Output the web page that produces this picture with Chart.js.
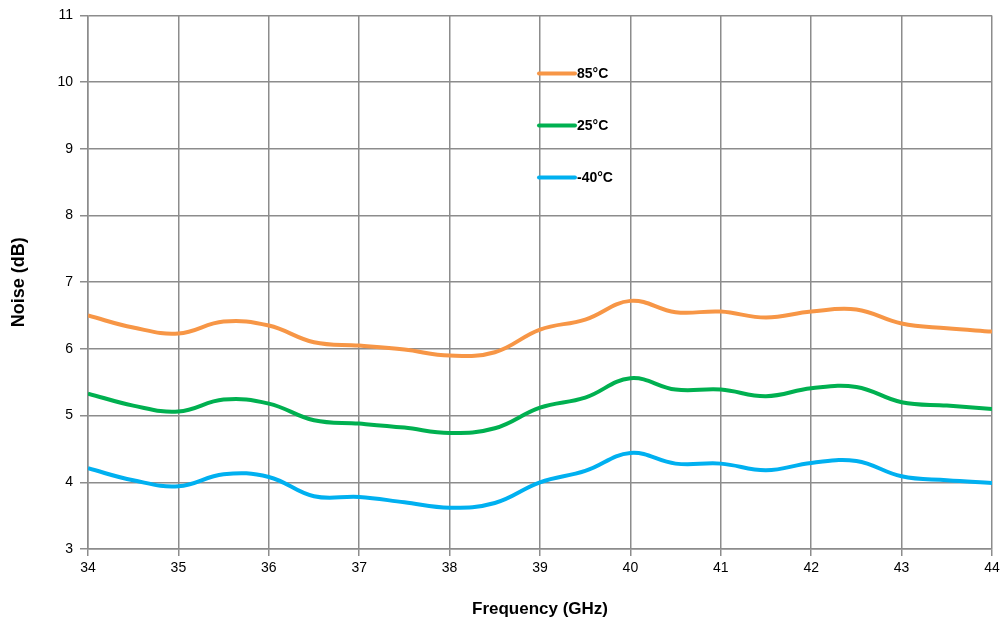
<!DOCTYPE html>
<html>
<head>
<meta charset="utf-8">
<style>
  html, body { margin: 0; padding: 0; background: #fff; }
  #wrap { width: 1004px; height: 624px; }
</style>
<script src="https://cdn.jsdelivr.net/npm/chart.js@4/dist/chart.umd.min.js"></script>
</head>
<body>
<div id="wrap"><canvas id="c" width="1004" height="624"></canvas></div>
<script>
// Frequency points (GHz)
const frequency = [34, 34.5, 35, 35.5, 36, 36.5, 37, 37.5, 38, 38.5, 39, 39.5, 40, 40.5, 41, 41.5, 42, 42.5, 43, 43.5, 44];

// Noise figure (dB) per temperature
const noise85 = [6.50, 6.32, 6.23, 6.41, 6.35, 6.10, 6.05, 5.99, 5.90, 5.95, 6.29, 6.44, 6.72, 6.55, 6.56, 6.47, 6.56, 6.59, 6.38, 6.31, 6.26];
const noise25 = [5.33, 5.15, 5.06, 5.24, 5.18, 4.93, 4.88, 4.82, 4.74, 4.81, 5.12, 5.27, 5.56, 5.39, 5.39, 5.29, 5.41, 5.43, 5.20, 5.15, 5.10];
const noiseM40 = [4.21, 4.03, 3.94, 4.12, 4.08, 3.79, 3.78, 3.70, 3.62, 3.69, 4.00, 4.17, 4.44, 4.28, 4.28, 4.18, 4.29, 4.32, 4.09, 4.03, 3.99];

const seriesLabels = ['85°C', '25°C', '-40°C'];
const seriesColors = ['#F79646', '#00B050', '#00B0F0'];

const xTicks = [34, 35, 36, 37, 38, 39, 40, 41, 42, 43, 44];
const yTicks = [3, 4, 5, 6, 7, 8, 9, 10, 11];

const toPoints = arr => arr.map((v, i) => ({ x: frequency[i], y: v }));

const FONT = "'Liberation Sans', Arial, sans-serif";
const GRID = '#8c8c8c';

// Legend drawn inside the plot area, one entry per row
const innerLegend = {
  id: 'innerLegend',
  afterDatasetsDraw(chart) {
    const { ctx, chartArea } = chart;
    const x0 = chartArea.left + 449;
    const rows = [chartArea.top + 58, chartArea.top + 110, chartArea.top + 162];
    ctx.save();
    chart.data.datasets.forEach((ds, i) => {
      const y = rows[i];
      ctx.strokeStyle = ds.borderColor;
      ctx.lineWidth = 4;
      ctx.lineCap = 'round';
      ctx.beginPath();
      ctx.moveTo(x0 + 2, y);
      ctx.lineTo(x0 + 38, y);
      ctx.stroke();
      ctx.fillStyle = '#000';
      ctx.font = 'bold 14px ' + FONT;
      ctx.textBaseline = 'middle';
      ctx.textAlign = 'left';
      ctx.fillText(ds.label, x0 + 40, y + 1);
    });
    ctx.restore();
  }
};

const datasets = [noise85, noise25, noiseM40].map((arr, i) => ({
  label: seriesLabels[i],
  data: toPoints(arr),
  borderColor: seriesColors[i],
  backgroundColor: seriesColors[i],
  borderWidth: 4,
  pointRadius: 0,
  tension: 0.4,
  fill: false
}));

new Chart(document.getElementById('c'), {
  type: 'line',
  data: { datasets },
  plugins: [innerLegend],
  options: {
    responsive: false,
    animation: false,
    devicePixelRatio: 1,
    layout: { padding: { top: 14, right: 12, left: 0, bottom: 0 } },
    plugins: { legend: { display: false }, tooltip: { enabled: false } },
    scales: {
      x: {
        type: 'linear',
        min: 34, max: 44,
        afterBuildTicks: s => { s.ticks = xTicks.map(v => ({ value: v })); },
        afterFit: s => { s.height = 75; },
        ticks: { color: '#000', font: { family: FONT, size: 14 }, padding: 4, maxRotation: 0 },
        grid: { color: GRID, lineWidth: 1.5, tickLength: 7, drawTicks: true },
        border: { color: GRID, width: 1.5 },
        title: {
          display: true, text: 'Frequency (GHz)', color: '#000',
          font: { family: FONT, size: 17, weight: 'bold' },
          padding: { top: 4, bottom: 4 }
        }
      },
      y: {
        type: 'linear',
        min: 3, max: 11,
        afterBuildTicks: s => { s.ticks = yTicks.map(v => ({ value: v })); },
        afterFit: s => { s.width = 88; },
        ticks: { color: '#000', font: { family: FONT, size: 14 }, padding: 7 },
        grid: { color: GRID, lineWidth: 1.5, tickLength: 8, drawTicks: true },
        border: { color: GRID, width: 1.5 },
        title: {
          display: true, text: 'Noise (dB)', color: '#000',
          font: { family: FONT, size: 18, weight: 'bold' },
          padding: { top: 8, bottom: 0 }
        }
      }
    }
  }
});
</script>
</body>
</html>
